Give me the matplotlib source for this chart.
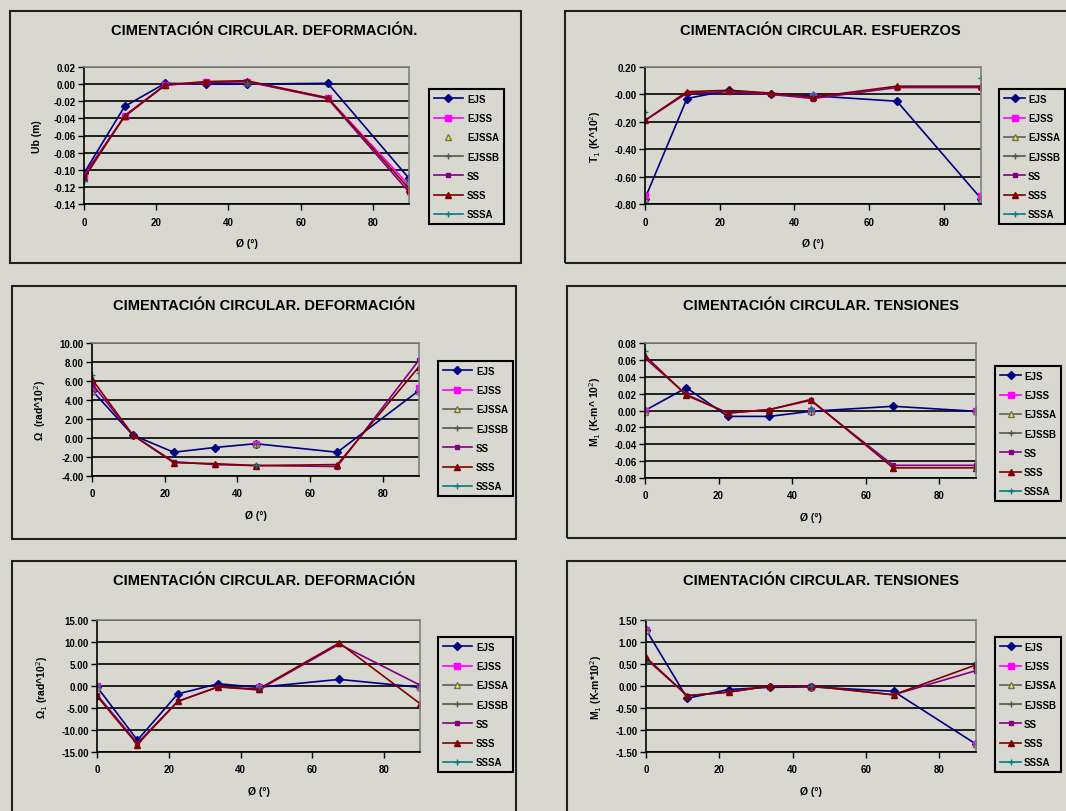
import numpy as np
import matplotlib
matplotlib.use('Agg')
import matplotlib.pyplot as plt
from matplotlib.patches import Rectangle

"""
Seis graficos de cimentacion circular (estilo Excel antiguo)
"""
W, H = 1066, 812
BG = '#d8d8d1'

angulo = [0, 11.25, 22.5, 33.75, 45, 67.5, 90]
series = ['EJS', 'EJSS', 'EJSSA', 'EJSSB', 'SS', 'SSS', 'SSSA']
nan = np.nan

# panel 1 - Ub (m)
ub_ejs = [-0.104, -0.026, 0.001, 0.000, 0.000, 0.001, -0.110]
ub_ejss = [-0.108, -0.037, -0.001, 0.002, 0.003, -0.016, -0.118]
ub_ejssa = [-0.110, nan, nan, nan, 0.002, nan, -0.114]
ub_ejssb = [-0.104, nan, nan, nan, 0.000, nan, -0.111]
ub_ss = [-0.106, -0.038, -0.001, 0.002, 0.003, -0.017, -0.126]
ub_sss = [-0.110, -0.037, -0.001, 0.003, 0.004, -0.016, -0.122]
ub_sssa = [-0.113, nan, nan, nan, 0.001, nan, -0.113]

# panel 2 - T1
t_ejs = [-0.76, -0.03, 0.03, 0.00, -0.01, -0.05, -0.76]
t_ejss = [-0.74, nan, nan, nan, -0.01, nan, -0.74]
t_ejssa = [-0.76, nan, nan, nan, -0.01, nan, -0.76]
t_ejssb = [-0.76, nan, nan, nan, -0.01, nan, -0.76]
t_ss = [-0.19, 0.01, 0.02, 0.00, -0.03, 0.05, 0.05]
t_sss = [-0.19, 0.02, 0.03, 0.01, -0.02, 0.06, 0.06]
t_sssa = [-0.13, nan, nan, nan, 0.00, nan, 0.12]

# panel 3 - Omega
om_ejs = [5.0, 0.3, -1.5, -1.0, -0.6, -1.5, 5.0]
om_ejss = [5.3, nan, nan, nan, -0.6, nan, 5.3]
om_ejssa = [5.0, nan, nan, nan, -0.6, nan, 5.0]
om_ejssb = [5.0, nan, nan, nan, -0.6, nan, 5.0]
om_ss = [5.7, 0.3, -2.5, -2.8, -2.9, -3.0, 8.2]
om_sss = [6.2, 0.3, -2.6, -2.7, -2.9, -2.8, 7.5]
om_sssa = [6.6, nan, nan, nan, -2.8, nan, 6.8]

# panel 4 - M1
m_ejs = [0.000, 0.027, -0.007, -0.007, -0.001, 0.005, -0.001]
m_ejss = [0.000, nan, nan, nan, -0.001, nan, -0.001]
m_ejssa = [-0.002, nan, nan, nan, -0.001, nan, -0.001]
m_ejssb = [0.000, nan, nan, nan, -0.001, nan, -0.001]
m_ss = [0.062, 0.019, -0.003, 0.001, 0.012, -0.065, -0.065]
m_sss = [0.065, 0.018, -0.003, 0.001, 0.013, -0.068, -0.068]
m_sssa = [0.070, nan, nan, nan, 0.003, nan, -0.070]

# panel 5 - Omega 1
o1_ejs = [-0.2, -12.3, -1.8, 0.5, -0.3, 1.5, -0.3]
o1_ejss = [0.0, nan, nan, nan, -0.3, nan, -0.3]
o1_ejssa = [-0.2, nan, nan, nan, -0.2, nan, -0.2]
o1_ejssb = [-0.2, nan, nan, nan, -0.3, nan, -0.3]
o1_ss = [-2.0, -13.0, -3.5, -0.2, -0.9, 9.5, 0.2]
o1_sss = [-2.3, -13.3, -3.5, -0.2, -0.7, 9.8, -4.0]
o1_sssa = [-0.1, nan, nan, nan, -0.2, nan, -0.2]

# panel 6 - M1 (segundo)
m2_ejs = [1.28, -0.28, -0.08, -0.03, -0.02, -0.12, -1.32]
m2_ejss = [1.28, nan, nan, nan, -0.02, nan, -1.32]
m2_ejssa = [1.28, nan, nan, nan, -0.02, nan, -1.32]
m2_ejssb = [1.28, nan, nan, nan, -0.02, nan, -1.32]
m2_ss = [0.62, -0.22, -0.14, 0.00, 0.00, -0.20, 0.35]
m2_sss = [0.65, -0.22, -0.14, 0.00, 0.00, -0.20, 0.48]
m2_sssa = [0.55, nan, nan, nan, 0.00, nan, 0.55]

estilos = {
    'EJS': dict(color='#000080', marker='D', ms=4),
    'EJSS': dict(color='#ff00ff', marker='s', ms=5),
    'EJSSA': dict(color='#5a625a', marker='^', ms=5, mfc='#f0f000', mec='#707070'),
    'EJSSB': dict(color='#505850', marker='+', ms=5),
    'SS': dict(color='#800080', marker='s', ms=3),
    'SSS': dict(color='#800000', marker='^', ms=5),
    'SSSA': dict(color='#008080', marker='+', ms=4),
}

paneles = [
    dict(titulo='CIMENTACIÓN CIRCULAR. DEFORMACIÓN.', ylabel='Ub (m)',
         datos=[ub_ejs, ub_ejss, ub_ejssa, ub_ejssb, ub_ss, ub_sss, ub_sssa],
         ylim=(-0.14, 0.02), paso=0.02, xt=264,
         caja=(10, 12, 521, 264), area=(84, 68, 409, 205), leyenda=(429, 90, 517, 228)),
    dict(titulo='CIMENTACIÓN CIRCULAR. ESFUERZOS', ylabel='T$_1$ (K^10$^2$)',
         datos=[t_ejs, t_ejss, t_ejssa, t_ejssb, t_ss, t_sss, t_sssa],
         ylim=(-0.80, 0.20), paso=0.20, xt=820,
         caja=(565, 12, 1090, 264), area=(645, 68, 981, 205), leyenda=(999, 90, 1087, 228)),
    dict(titulo='CIMENTACIÓN CIRCULAR. DEFORMACIÓN', ylabel='Ω  (rad^10$^2$)',
         datos=[om_ejs, om_ejss, om_ejssa, om_ejssb, om_ss, om_sss, om_sssa],
         ylim=(-4, 10), paso=2, xt=264,
         caja=(12, 287, 516, 540), area=(92, 344, 419, 477), leyenda=(438, 362, 513, 498)),
    dict(titulo='CIMENTACIÓN CIRCULAR. TENSIONES', ylabel='M$_1$ (K-m^ 10$^2$)',
         datos=[m_ejs, m_ejss, m_ejssa, m_ejssb, m_ss, m_sss, m_sssa],
         ylim=(-0.08, 0.08), paso=0.02, xt=821,
         caja=(567, 287, 1090, 539), area=(645, 344, 976, 479), leyenda=(995, 367, 1083, 498)),
    dict(titulo='CIMENTACIÓN CIRCULAR. DEFORMACIÓN', ylabel='Ω$_1$ (rad^10$^2$)',
         datos=[o1_ejs, o1_ejss, o1_ejssa, o1_ejssb, o1_ss, o1_sss, o1_sssa],
         ylim=(-15, 15), paso=5, xt=264,
         caja=(12, 562, 516, 830), area=(97, 621, 420, 753), leyenda=(438, 638, 513, 776)),
    dict(titulo='CIMENTACIÓN CIRCULAR. TENSIONES', ylabel='M$_1$ (K-m*10$^2$)',
         datos=[m2_ejs, m2_ejss, m2_ejssa, m2_ejssb, m2_ss, m2_sss, m2_sssa],
         ylim=(-1.5, 1.5), paso=0.5, xt=821,
         caja=(567, 562, 1090, 830), area=(646, 621, 976, 753), leyenda=(995, 638, 1083, 776)),
]


def fig_rect(x0, y0, x1, y1):
    return [x0 / W, 1 - y1 / H, (x1 - x0) / W, (y1 - y0) / H]


plt.rcParams['font.family'] = ['Liberation Sans', 'DejaVu Sans']
fig = plt.figure(figsize=(W / 100, H / 100), dpi=100, facecolor=BG)

for i, p in enumerate(paneles):
    x0, y0, x1, y1 = p['caja']
    fig.patches.append(Rectangle((x0 / W, 1 - y1 / H), (x1 - x0) / W, (y1 - y0) / H,
                                 transform=fig.transFigure, fill=False,
                                 edgecolor='#202020', linewidth=1.5))
    fig.text(p['xt'] / W, 1 - (y0 + 19) / H, p['titulo'],
             ha='center', va='center', fontsize=10.5, fontweight='bold')

    ax = fig.add_axes(fig_rect(*p['area']))
    ax.set_facecolor(BG)
    lineas = []
    for nombre, valores in zip(series, p['datos']):
        est = dict(estilos[nombre])
        ls = 'none' if (i == 0 and nombre == 'EJSSA') else '-'
        l, = ax.plot(angulo, valores, linestyle=ls, linewidth=1.2, label=nombre, **est)
        lineas.append(l)

    lo, hi = p['ylim']
    ax.set_ylim(lo, hi)
    ax.set_xlim(0, 90)
    ticks = np.arange(lo, hi + p['paso'] / 2, p['paso'])
    ax.set_yticks(ticks)
    ax.set_yticklabels(['%.2f' % t for t in ticks])
    ax.set_xticks([0, 20, 40, 60, 80])
    ax.yaxis.grid(True, color='black', linewidth=1.2)
    ax.set_axisbelow(True)
    for s in ['top', 'right']:
        ax.spines[s].set_color('#808080')
        ax.spines[s].set_linewidth(1.2)
    for s in ['left', 'bottom']:
        ax.spines[s].set_color('black')
        ax.spines[s].set_linewidth(1.2)
    ax.tick_params(labelsize=7, length=4, width=1, direction='out', pad=2)
    ax.tick_params(axis='x', pad=5)
    for t in ax.get_xticklabels() + ax.get_yticklabels():
        t.set_fontweight('bold')
    ax.set_xlabel('Ø (°)', fontsize=7.5, fontweight='bold', labelpad=8)
    ax.set_ylabel(p['ylabel'], fontsize=7.5, fontweight='bold', labelpad=8)

    lx0, ly0, lx1, ly1 = p['leyenda']
    derecha = i % 2 == 1
    leg = fig.legend(handles=lineas, loc='upper left',
                     bbox_to_anchor=(lx0 / W, 1 - ly0 / H),
                     bbox_transform=fig.transFigure, fontsize=7,
                     frameon=True, fancybox=False, edgecolor='black',
                     facecolor=BG, framealpha=1,
                     handlelength=2.2 if derecha else 3,
                     handletextpad=0.3 if derecha else 0.4,
                     labelspacing=0.95, borderpad=0.5,
                     borderaxespad=0)
    leg.get_frame().set_linewidth(1.5)
    for t in leg.get_texts():
        t.set_fontweight('bold')

fig.savefig('out.png', dpi=100, facecolor=BG)
